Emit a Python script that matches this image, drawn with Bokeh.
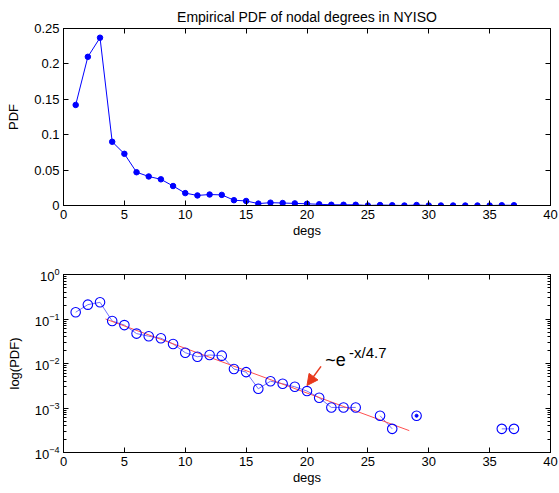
import numpy as np
from bokeh.plotting import figure
from bokeh.layouts import column
from bokeh.models import (Range1d, FixedTicker, LinearAxis, LogAxis, LogTicker,
                          CustomJSTickFormatter, Arrow, NormalHead)
from bokeh.core.properties import value
from bokeh.embed import file_html
from bokeh.resources import INLINE

# ---------------- data ----------------
degs = list(range(1, 38))
pdf = [0.142, 0.210, 0.237, 0.090, 0.073, 0.047, 0.041, 0.037, 0.0275, 0.0175,
       0.0142, 0.0155, 0.0150, 0.0075, 0.0064, 0.0027, 0.0040, 0.0035, 0.0030, 0.0024,
       0.0017, 0.00103, 0.00103, 0.00103, 0.0, 0.00067, 0.00034, 0.0, 0.00067, 0.0,
       0.0, 0.0, 0.0, 0.0, 0.0, 0.00034, 0.00034]

fit_x = [3.45, 28.4]
fit_y = [0.1, 3.1e-4]
fit_label = "~e"
fit_exp = "-x/4.7"

x_ticks = [0, 5, 10, 15, 20, 25, 30, 35, 40]
y_ticks_lin = [0, 0.05, 0.1, 0.15, 0.2, 0.25]

title_text = "Empirical PDF of nodal degrees in NYISO"

# annotation placement
arrow_from = (21.15, 0.0086)
arrow_to = (20.0, 0.0032)
label_pos = (21.5, 0.0117)
exp_pos = (23.45, 0.0178)

FONT = "Liberation Sans"
BLUE = "#0000ff"
RED = "#e8381c"


def style_axis(ax, minor=False):
    ax.axis_line_color = "black"
    ax.axis_line_width = 1
    ax.major_tick_in = 5
    ax.major_tick_out = 0
    ax.major_tick_line_color = "black"
    if minor:
        ax.minor_tick_in = 3
        ax.minor_tick_out = 0
        ax.minor_tick_line_color = "black"
    else:
        ax.minor_tick_line_color = None
    ax.major_label_text_font = FONT
    ax.major_label_text_font_size = "13px"
    ax.major_label_text_color = "black"
    ax.axis_label_text_font = FONT
    ax.axis_label_text_font_size = "13px"
    ax.axis_label_text_font_style = "normal"
    ax.axis_label_text_color = "black"


def blank_axis(ax):
    ax.formatter = CustomJSTickFormatter(code="return ''")
    ax.major_label_standoff = 0
    ax.major_label_text_font_size = "1px"


# ---------------- top: linear PDF ----------------
p1 = figure(frame_width=487, frame_height=177,
            x_range=Range1d(0, 40), y_range=Range1d(0, 0.25),
            output_backend="svg", toolbar_location=None,
            title=title_text,
            min_border_left=63, min_border_right=8,
            min_border_top=28, min_border_bottom=43)
p1.title.align = "center"
p1.title.text_font = FONT
p1.title.text_font_size = "14px"
p1.title.text_font_style = "normal"
p1.title.text_color = "black"
p1.title.standoff = 8
p1.grid.visible = False
p1.outline_line_color = "black"

p1.xaxis.ticker = FixedTicker(ticks=x_ticks)
p1.yaxis.ticker = FixedTicker(ticks=y_ticks_lin)
p1.xaxis.axis_label = "degs"
p1.yaxis.axis_label = "PDF"
for ax in p1.xaxis + p1.yaxis:
    style_axis(ax)
p1.xaxis.major_label_standoff = 4
p1.xaxis.axis_label_standoff = 1
p1.yaxis.major_label_standoff = 4
p1.yaxis.axis_label_standoff = 10

ax_t = LinearAxis(ticker=FixedTicker(ticks=x_ticks))
style_axis(ax_t)
blank_axis(ax_t)
p1.add_layout(ax_t, "above")
ax_r = LinearAxis(ticker=FixedTicker(ticks=y_ticks_lin))
style_axis(ax_r)
blank_axis(ax_r)
p1.add_layout(ax_r, "right")

p1.line(degs, pdf, line_color=BLUE, line_width=1)
p1.scatter(degs, pdf, size=5.5, fill_color=BLUE, line_color=BLUE)

# ---------------- bottom: log PDF ----------------
pos = [v if v > 0 else np.nan for v in pdf]
isolated_x, isolated_y = [], []
for i, v in enumerate(pdf):
    left = pdf[i - 1] if i > 0 else 0
    right = pdf[i + 1] if i < len(pdf) - 1 else 0
    if v > 0 and left == 0 and right == 0:
        isolated_x.append(degs[i])
        isolated_y.append(v)

p2 = figure(frame_width=487, frame_height=178,
            x_range=Range1d(0, 40), y_range=Range1d(1e-4, 1),
            y_axis_type="log",
            output_backend="svg", toolbar_location=None,
            min_border_left=63, min_border_right=8,
            min_border_top=26, min_border_bottom=40)
p2.grid.visible = False
p2.outline_line_color = "black"
p2.xaxis.ticker = FixedTicker(ticks=x_ticks)
p2.yaxis.ticker = LogTicker(desired_num_ticks=5, num_minor_ticks=10)
p2.xaxis.axis_label = "degs"
p2.yaxis.axis_label = "log(PDF)"
style_axis(p2.xaxis[0])
style_axis(p2.yaxis[0], minor=True)
p2.xaxis.major_label_standoff = 4
p2.xaxis.axis_label_standoff = 1
p2.yaxis.major_label_standoff = 4
p2.yaxis.axis_label_standoff = 10

ax_t2 = LinearAxis(ticker=FixedTicker(ticks=x_ticks))
style_axis(ax_t2)
blank_axis(ax_t2)
p2.add_layout(ax_t2, "above")
ax_r2 = LogAxis(ticker=LogTicker(desired_num_ticks=5, num_minor_ticks=10))
style_axis(ax_r2, minor=True)
blank_axis(ax_r2)
p2.add_layout(ax_r2, "right")

p2.line(degs, pos, line_color="#7070ff", line_width=1)
p2.line(fit_x, fit_y, line_color="#ff5050", line_width=1)
p2.scatter(degs, pos, size=9.5, fill_color=None, line_color=BLUE, line_width=1.1)
p2.scatter(isolated_x, isolated_y, size=3, fill_color=BLUE, line_color=BLUE)

p2.add_layout(Arrow(end=NormalHead(size=11, fill_color=RED, line_color=RED),
                    x_start=arrow_from[0], y_start=arrow_from[1],
                    x_end=arrow_to[0], y_end=arrow_to[1],
                    line_color=RED, line_width=1.5))
p2.text(x=[label_pos[0]], y=[label_pos[1]], text=[fit_label],
        text_font=value(FONT), text_font_size="18px",
        text_baseline="alphabetic", text_align="left", text_color="black")
p2.text(x=[exp_pos[0]], y=[exp_pos[1]], text=[fit_exp],
        text_font=value(FONT), text_font_size="15px",
        text_baseline="alphabetic", text_align="left", text_color="black")

layout = column(p1, p2, spacing=0)
open("out.html", "w").write(file_html(layout, INLINE))
